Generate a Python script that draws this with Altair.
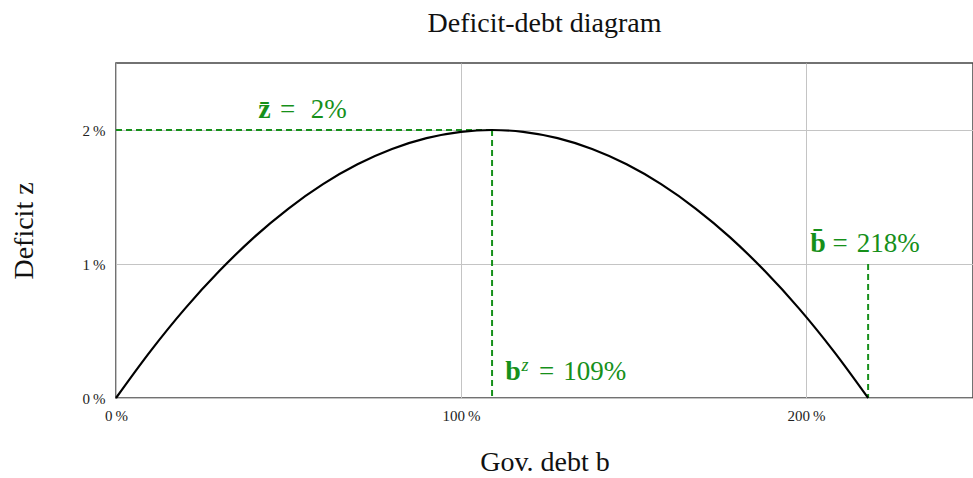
import altair as alt
import pandas as pd

# Deficit z (in %) against government debt b (in %)
debt = [0, 10, 20, 30, 40, 50, 60, 70, 80, 90, 100, 109,
        118, 128, 138, 148, 158, 168, 178, 188, 198, 208, 218]
deficit = [0.0, 0.35, 0.667, 0.949, 1.199, 1.414, 1.596, 1.744, 1.858, 1.939, 1.986, 2.0,
           1.986, 1.939, 1.858, 1.744, 1.596, 1.414, 1.199, 0.949, 0.667, 0.35, 0.0]

# key values marked on the chart
z_max = 2.0      # maximal deficit
b_z = 109        # debt at which the deficit peaks
b_bar = 218      # debt at which the deficit returns to zero

GREEN = "#16901a"
SERIF = "Liberation Serif"

curve_df = pd.DataFrame({"b": debt, "z": deficit})

guides_df = pd.DataFrame({
    "x": [0, b_z, b_bar],
    "x2": [b_z, b_z, b_bar],
    "y": [z_max, z_max, 1.0],
    "y2": [z_max, 0.0, 0.0],
})

# annotation pieces: text, position and kind (symbol / value / superscript)
ann_text = ["z\u0304", "=\u2004 2%", "b\u0304", "=\u2004218%", "b", "z", "=\u2004109%"]
ann_x = [41.2, 47.5, 201.2, 207.7, 112.8, 117.5, 122.6]
ann_y = [2.09, 2.09, 1.09, 1.09, 0.134, 0.2, 0.134]
ann_kind = ["sym", "val", "sym", "val", "sym", "sup", "val"]
ann_df = pd.DataFrame({"t": ann_text, "x": ann_x, "y": ann_y, "k": ann_kind})

x_scale = alt.Scale(domain=[0, 248.4], nice=False, zero=False)
y_scale = alt.Scale(domain=[0, 2.5], nice=False)

x_axis = alt.Axis(
    title="Gov. debt b", values=[0, 100, 200],
    labelExpr="datum.value + '\u2009%'", labelFlush=False,
    labelFont=SERIF, labelFontSize=15, labelColor="#222", labelPadding=10,
    ticks=False, domain=False, grid=True, gridColor="#c4c4c4",
    titleFont=SERIF, titleFontSize=28, titleFontWeight="normal", titleColor="#111",
    titleY=72, titleBaseline="alphabetic",
)
y_axis = alt.Axis(
    title="Deficit z", values=[0, 1, 2],
    labelExpr="datum.value + '\u2009%'", labelFlush=False,
    labelFont=SERIF, labelFontSize=15, labelColor="#222", labelPadding=11,
    ticks=False, domain=False, grid=True, gridColor="#c4c4c4",
    titleFont=SERIF, titleFontSize=28, titleFontWeight="normal", titleColor="#111",
    titleX=-92, titleBaseline="middle", titleAngle=-90,
)

curve = alt.Chart(curve_df).mark_line(color="black", strokeWidth=2.2, interpolate="monotone").encode(
    x=alt.X("b:Q", scale=x_scale, axis=x_axis),
    y=alt.Y("z:Q", scale=y_scale, axis=y_axis),
)

guides = alt.Chart(guides_df).mark_rule(color=GREEN, strokeWidth=2, strokeDash=[6, 4]).encode(
    x=alt.X("x:Q", scale=x_scale), x2="x2:Q",
    y=alt.Y("y:Q", scale=y_scale), y2="y2:Q",
)


def ann_layer(kind, **style):
    return alt.Chart(ann_df).transform_filter(
        alt.datum.k == kind
    ).mark_text(
        color=GREEN, font=SERIF, align="left", baseline="alphabetic", **style
    ).encode(
        x=alt.X("x:Q", scale=x_scale),
        y=alt.Y("y:Q", scale=y_scale),
        text="t:N",
    )


symbols = ann_layer("sym", fontSize=28, fontWeight="bold")
values = ann_layer("val", fontSize=27)
supers = ann_layer("sup", fontSize=18, fontStyle="italic")

chart = (
    alt.layer(guides, curve, symbols, values, supers)
    .properties(
        width=857, height=335,
        title=alt.TitleParams("Deficit-debt diagram", font=SERIF, fontSize=28,
                              fontWeight="normal", color="#111", offset=25),
        autosize=alt.AutoSizeParams(type="none"),
        padding={"left": 116, "top": 63, "right": 0, "bottom": 80},
    )
    .configure_view(stroke="#444", strokeWidth=1.5)
)

chart.save("out.html", embed_options={"renderer": "svg", "actions": False})
